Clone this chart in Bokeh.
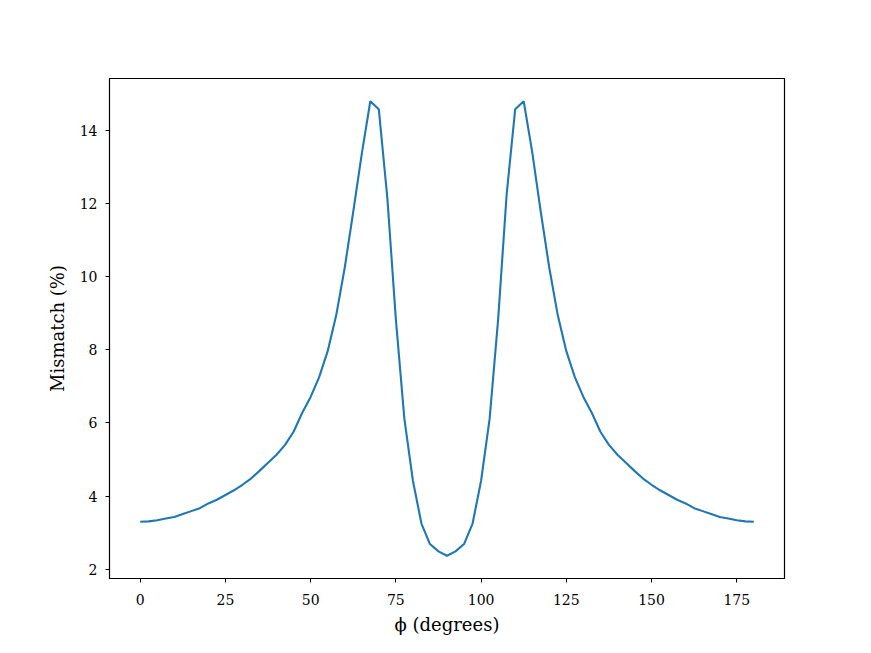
from bokeh.plotting import figure
from bokeh.models import FixedTicker, Range1d
from bokeh.embed import file_html
from bokeh.resources import INLINE

# angle phi in degrees (0 .. 180 step 2.5)
phi_left = [0, 2.5, 5, 7.5, 10, 12.5, 15, 17.5, 20, 22.5, 25, 27.5, 30, 32.5, 35, 37.5,
            40, 42.5, 45, 47.5, 50, 52.5, 55, 57.5, 60, 62.5, 65, 67.5, 70, 72.5, 75,
            77.5, 80, 82.5, 85, 87.5, 90]
mismatch_left = [3.30, 3.31, 3.34, 3.39, 3.43, 3.51, 3.59, 3.67, 3.80, 3.90, 4.03, 4.16,
                 4.31, 4.48, 4.69, 4.91, 5.13, 5.40, 5.76, 6.27, 6.71, 7.25, 7.96, 8.94,
                 10.24, 11.77, 13.35, 14.79, 14.57, 12.15, 8.83, 6.11, 4.42, 3.25, 2.69,
                 2.49, 2.37]
phi_right = [92.5, 95, 97.5, 100, 102.5, 105, 107.5, 110, 112.5, 115, 117.5, 120, 122.5,
             125, 127.5, 130, 132.5, 135, 137.5, 140, 142.5, 145, 147.5, 150, 152.5, 155,
             157.5, 160, 162.5, 165, 167.5, 170, 172.5, 175, 177.5, 180]
mismatch_right = [2.49, 2.69, 3.25, 4.42, 6.11, 8.83, 12.25, 14.57, 14.79, 13.40, 11.77,
                  10.24, 8.94, 7.96, 7.25, 6.71, 6.27, 5.76, 5.40, 5.13, 4.91, 4.69, 4.48,
                  4.31, 4.16, 4.03, 3.90, 3.80, 3.67, 3.59, 3.51, 3.43, 3.39, 3.34, 3.31,
                  3.30]
x_ticks = [0, 25, 50, 75, 100, 125, 150, 175]
y_ticks = [2, 4, 6, 8, 10, 12, 14]

phi = phi_left + phi_right
mismatch = mismatch_left + mismatch_right

xmin, xmax = min(phi), max(phi)
ymin, ymax = min(mismatch), max(mismatch)
xm = 0.05 * (xmax - xmin)
ym = 0.05 * (ymax - ymin)

FONT = "DejaVu Serif"

p = figure(width=855, height=637, output_backend="svg", toolbar_location=None,
           x_range=Range1d(xmin - xm, xmax + xm), y_range=Range1d(ymin - ym, ymax + ym),
           min_border_left=109, min_border_right=71, min_border_top=78, min_border_bottom=57)
p.line(phi, mismatch, line_color="#1f77b4", line_width=2.1)

p.grid.visible = False
p.outline_line_color = "black"
p.outline_line_width = 1.2
p.outline_line_alpha = 1

p.xaxis.ticker = FixedTicker(ticks=x_ticks)
p.yaxis.ticker = FixedTicker(ticks=y_ticks)
for ax in (p.xaxis[0], p.yaxis[0]):
    ax.major_tick_in = 0
    ax.major_tick_out = 4
    ax.minor_tick_in = 0
    ax.minor_tick_out = 0
    ax.major_tick_line_color = "black"
    ax.axis_line_color = "black"
    ax.major_label_text_font = FONT
    ax.major_label_text_font_size = "14px"
    ax.major_label_text_color = "black"
    ax.axis_label_text_font = FONT
    ax.axis_label_text_font_size = "18px"
    ax.axis_label_text_font_style = "normal"
    ax.axis_label_text_color = "black"

p.xaxis.axis_label = "ϕ (degrees)"
p.yaxis.axis_label = "Mismatch (%)"
p.xaxis.major_label_standoff = 11
p.yaxis.major_label_standoff = 8
p.xaxis.axis_label_standoff = 6
p.yaxis.axis_label_standoff = 9

open("out.html", "w").write(file_html(p, INLINE))
